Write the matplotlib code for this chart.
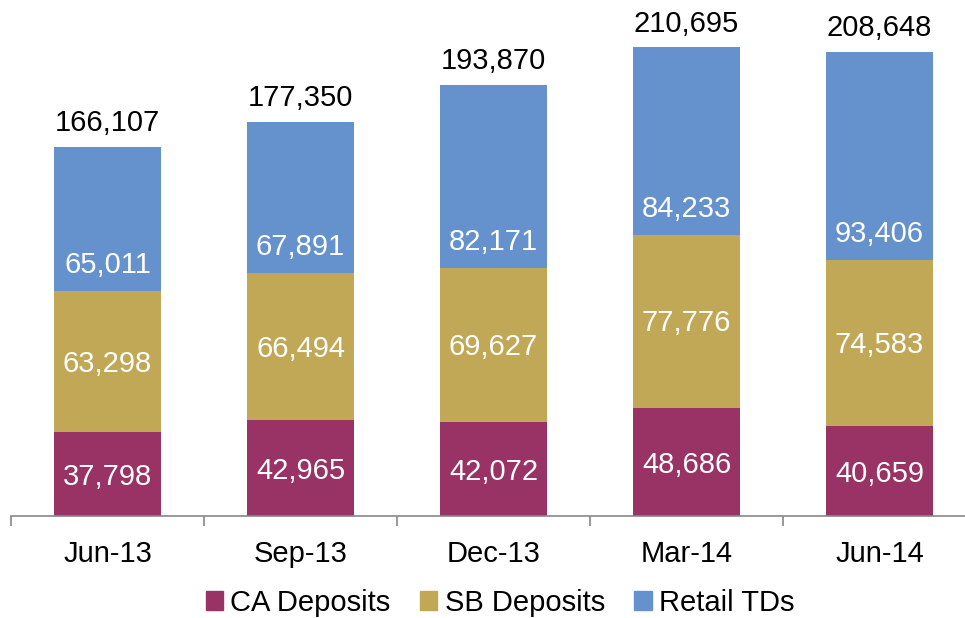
import matplotlib
matplotlib.use("Agg")
import matplotlib.pyplot as plt
from matplotlib.patches import Patch

categories = ["Jun-13", "Sep-13", "Dec-13", "Mar-14", "Jun-14"]
ca_deposits = [37798, 42965, 42072, 48686, 40659]
sb_deposits = [63298, 66494, 69627, 77776, 74583]
retail_tds = [65011, 67891, 82171, 84233, 93406]
totals = [166107, 177350, 193870, 210695, 208648]
series_names = ["CA Deposits", "SB Deposits", "Retail TDs"]
colors = ["#993366", "#C0A856", "#6592CD"]

plt.rcParams['font.family'] = ['Liberation Sans', 'DejaVu Sans']

fig = plt.figure(figsize=(9.65, 6.18), dpi=100)
ax = fig.add_axes([11/965, 102/618, 965/965, 516/618])

x = list(range(len(categories)))
w = 0.555
b2 = [a + b for a, b in zip(ca_deposits, sb_deposits)]
ax.bar(x, ca_deposits, w, color=colors[0], zorder=2)
ax.bar(x, sb_deposits, w, bottom=ca_deposits, color=colors[1], zorder=2)
ax.bar(x, retail_tds, w, bottom=b2, color=colors[2], zorder=2)

fs = 21
for i in x:
    ax.annotate(f"{ca_deposits[i]:,}", (i, ca_deposits[i] / 2), xytext=(0, -2),
                textcoords='offset points', ha='center', va='center', color='white', fontsize=fs)
    ax.annotate(f"{sb_deposits[i]:,}", (i, ca_deposits[i] + sb_deposits[i] / 2), xytext=(0, -1.5),
                textcoords='offset points', ha='center', va='center', color='white', fontsize=fs)
    ax.annotate(f"{retail_tds[i]:,}", (i, b2[i]), xytext=(0, 18.5), textcoords='offset points',
                ha='center', va='center', color='white', fontsize=fs)
    ax.annotate(f"{totals[i]:,}", (i, totals[i]), xytext=(0, 17), textcoords='offset points',
                ha='center', va='center', color='black', fontsize=fs)

ax.set_xlim(-0.5, len(categories) - 0.5)
ax.set_ylim(0, 232000)
for s in ['top', 'right', 'left']:
    ax.spines[s].set_visible(False)
ax.spines['bottom'].set_color('#888888')
ax.spines['bottom'].set_linewidth(1.2)
ax.set_yticks([])
ax.set_xticks([i - 0.5 for i in range(len(categories) + 1)])
ax.set_xticklabels([])
ax.set_xticks(x, minor=True)
ax.set_xticklabels(categories, minor=True, fontsize=fs)
ax.tick_params(axis='x', which='major', length=7, color='#888888', width=1.2)
ax.tick_params(axis='x', which='minor', length=0, pad=17)

handles = [Patch(color=c, label=n) for c, n in zip(colors, series_names)]
fig.legend(handles=handles, loc='center', bbox_to_anchor=(500/965, 1 - 603/618), ncol=3,
           frameon=False, fontsize=fs, handlelength=0.6, handleheight=0.6,
           handletextpad=0.25, columnspacing=1.0)

fig.savefig("out.png", dpi=100)
